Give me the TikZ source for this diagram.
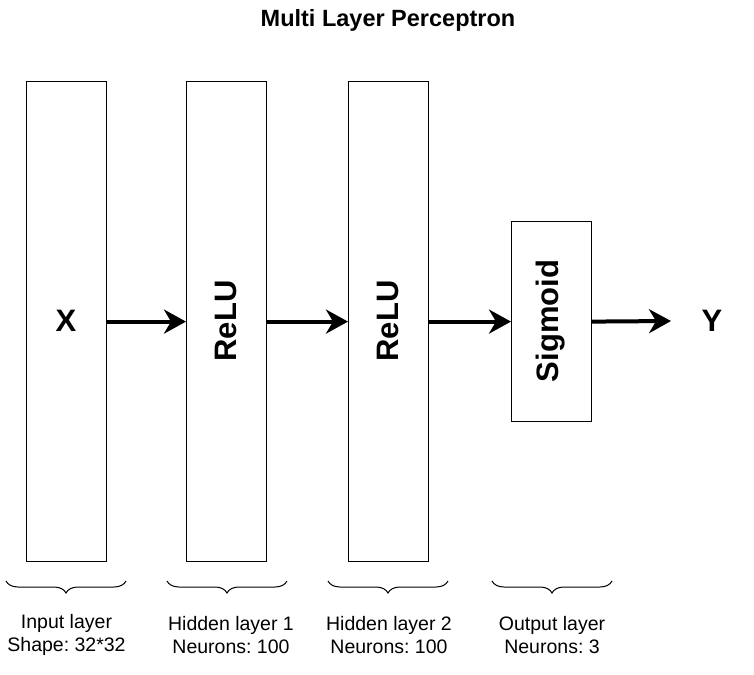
\documentclass[tikz,border=0pt]{standalone}
\usepackage{fontspec}
\setmainfont{Liberation Sans}
\usetikzlibrary{arrows.meta,decorations.pathreplacing}
\frenchspacing
\begin{document}
\begin{tikzpicture}[x=1pt,y=-1pt,
  layer/.style={draw=black,line width=1.2pt,fill=white,minimum width=80pt,inner sep=0pt,anchor=north west},
  conn/.style={line width=4pt,-{Stealth[length=22pt,width=24pt,inset=7pt]}},
  bigtxt/.style={font=\fontsize{31}{35}\selectfont\bfseries},
  lbl/.style={font=\fontsize{19.5}{23}\selectfont,align=center},
  brc/.style={draw=black,line width=1pt,decorate,decoration={brace,amplitude=12pt,mirror}}]
\useasboundingbox (0,0) rectangle (754,674);
\node[font=\fontsize{23.5}{27}\selectfont\bfseries] (title) at (388,20) {Multi Layer Perceptron};
\node[layer,minimum height=480pt] (in) at (26,81) {};
\node[layer,minimum height=480pt] (h1) at (186,81) {};
\node[layer,minimum height=480pt] (h2) at (348,81) {};
\node[layer,minimum height=200pt] (out) at (511,221) {};
\node[bigtxt] (x) at (66,321) {X};
\node[bigtxt,rotate=90] (r1) at (226,321) {ReLU};
\node[bigtxt,rotate=90] (r2) at (388,321) {ReLU};
\node[bigtxt,rotate=90] (sg) at (551,321) {Sigmoid};
\node[bigtxt] (y) at (712,321) {Y};
\coordinate (yend) at (671,321);
\draw[conn] (in.east) -- (h1.west);
\draw[conn] (h1.east) -- (h2.west);
\draw[conn] (h2.east |- in.east) -- (out.west);
\draw[conn] (out.east) -- (yend);
\coordinate (b1a) at (6,581); \coordinate (b1b) at (126,581);
\coordinate (b2a) at (167,581); \coordinate (b2b) at (287,581);
\coordinate (b3a) at (328,581); \coordinate (b3b) at (448,581);
\coordinate (b4a) at (492,581); \coordinate (b4b) at (612,581);
\draw[brc] (b1a) -- (b1b);
\draw[brc] (b2a) -- (b2b);
\draw[brc] (b3a) -- (b3b);
\draw[brc] (b4a) -- (b4b);
\node[lbl] (l1) at (66.5,635) {Input layer\\Shape: 32*32};
\node[lbl] (l2) at (231,635) {Hidden layer 1\\Neurons: 100};
\node[lbl] (l3) at (389,635) {Hidden layer 2\\Neurons: 100};
\node[lbl] (l4) at (552,635) {Output layer\\Neurons: 3};
\end{tikzpicture}
\end{document}
